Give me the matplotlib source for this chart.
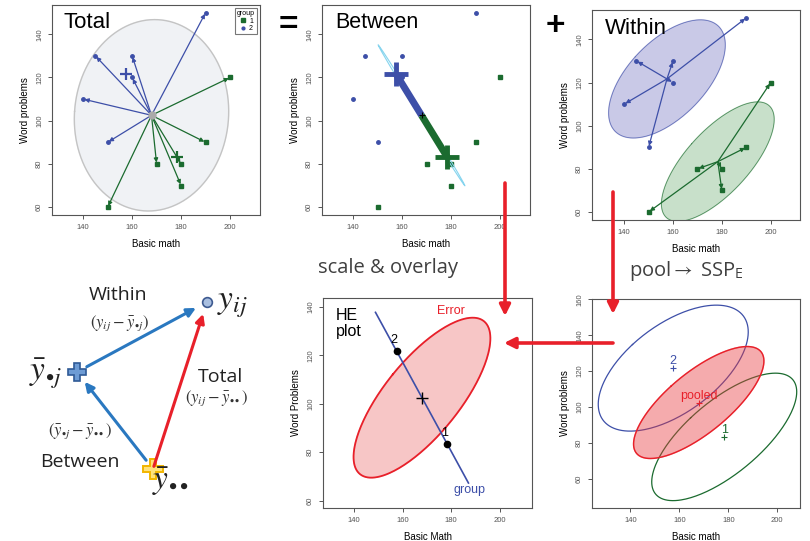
import numpy as np
import matplotlib.pyplot as plt
from matplotlib.lines import Line2D

plt.rcParams.update({
    "font.family": ["Liberation Sans", "DejaVu Sans"],
    "mathtext.fontset": "stix",
})

W, H = 810, 541

# ── data ───────────────────────────────────────────────────────────────────────
math_g1 = np.array([150, 170, 180, 180, 190, 200])   # group 1 (green)
word_g1 = np.array([60, 80, 80, 70, 90, 120])
math_g2 = np.array([140, 145, 150, 160, 160, 190])   # group 2 (blue)
word_g2 = np.array([110, 130, 90, 120, 130, 150])

x_ticks = [140, 160, 180, 200]
y_ticks = [60, 80, 100, 120, 140]
y_ticks_pool = [60, 80, 100, 120, 140, 160]

# schematic nodes (pixel positions of the little diagram)
node_yij = (207, 302)
node_ybar_j = (77, 372)
node_ybar = (153, 469)

GREEN = "#1b6b2f"
BLUE = "#3d4fa8"
RED = "#e8202a"
ARROW_BLUE = "#2a78c0"
TXT = "#404040"

g1 = np.column_stack([math_g1, word_g1]).astype(float)
g2 = np.column_stack([math_g2, word_g2]).astype(float)
allp = np.vstack([g1, g2])
m1, m2, grand = g1.mean(0), g2.mean(0), allp.mean(0)
cov_tot = np.cov(allp.T)
cov1, cov2 = np.cov(g1.T), np.cov(g2.T)
cov_pool = ((len(g1) - 1) * cov1 + (len(g2) - 1) * cov2) / (len(allp) - 2)


def ell(center, cov, r, shrink=1.0, n=240):
    # shrink < 1 fattens the ellipse a little (damps the correlation)
    cov = np.array(cov, dtype=float)
    cov[0, 1] *= shrink
    cov[1, 0] *= shrink
    vals, vecs = np.linalg.eigh(cov)
    t = np.linspace(0, 2 * np.pi, n)
    circ = np.vstack([np.cos(t), np.sin(t)]) * np.sqrt(vals)[:, None]
    pts = vecs @ circ * r + np.asarray(center)[:, None]
    return pts[0], pts[1]


def rect(l, t, r, b):
    return [l / W, 1 - b / H, (r - l) / W, (b - t) / H]


def rstyle(ax, xlim, ylim, yt, xlab="Basic math", ylab="Word problems"):
    ax.set_xlim(*xlim)
    ax.set_ylim(*ylim)
    ax.set_xticks(x_ticks)
    ax.set_yticks(yt)
    ax.set_yticklabels([str(v) for v in yt], rotation=90, va="center")
    ax.tick_params(labelsize=5.5, colors="#555555", length=3, width=0.7)
    for s in ax.spines.values():
        s.set_color("#555555")
        s.set_linewidth(0.8)
    ax.set_xlabel(xlab, fontsize=7, labelpad=6)
    ax.set_ylabel(ylab, fontsize=7, labelpad=4)


def arrow(ax, start, end, color, lw=0.9, ms=6):
    ax.annotate("", xy=end, xytext=start,
                arrowprops=dict(arrowstyle="-|>", color=color, lw=lw,
                                mutation_scale=ms, shrinkA=0, shrinkB=1))


fig = plt.figure(figsize=(W / 100, H / 100), dpi=100)

# ── Total ──────────────────────────────────────────────────────────────────────
ax1 = fig.add_axes(rect(52, 5, 260, 215))
ex, ey = ell(grand, cov_tot, 1.58, shrink=0.6)
ax1.fill(ex, ey, color="#f0f2f5", zorder=1)
ax1.plot(ex, ey, color="#c4c4c4", lw=1, zorder=1)
for p in g1:
    arrow(ax1, grand, p, GREEN)
for p in g2:
    arrow(ax1, grand, p, BLUE)
ax1.plot(math_g1, word_g1, "s", color=GREEN, ms=3.5, zorder=4)
ax1.plot(math_g2, word_g2, "o", color=BLUE, ms=2.5, zorder=4)
ax1.plot(*grand, "o", color="#aaaaaa", ms=5, zorder=4)
ax1.plot(*m1, "+", color=GREEN, ms=9, mew=1.6, zorder=5)
ax1.plot(*m2, "+", color=BLUE, ms=9, mew=1.6, zorder=5)
leg = ax1.legend(handles=[Line2D([], [], ls="", marker="s", color=GREEN, ms=2.5, label="1"),
                          Line2D([], [], ls="", marker="o", color=BLUE, ms=2, label="2")],
                 title="group", loc="upper right", fontsize=5, title_fontsize=5,
                 fancybox=False, edgecolor="#555555", handlelength=1, handletextpad=0.4,
                 borderpad=0.3, labelspacing=0.1, borderaxespad=0.4)
leg.get_frame().set_linewidth(0.8)
rstyle(ax1, (127.3, 212.2), (56.4, 153.5), y_ticks)

# ── Between ────────────────────────────────────────────────────────────────────
ax2 = fig.add_axes(rect(322, 5, 530, 215))
ax2.plot(math_g1, word_g1, "s", color=GREEN, ms=3.5, zorder=2)
ax2.plot(math_g2, word_g2, "o", color=BLUE, ms=2.5, zorder=2)
d = m1 - grand
hx, hy = ell(grand, np.outer(d, d) + 0.12 * np.eye(2), 1.7)
ax2.plot(hx, hy, color="#86d4ee", lw=0.8, zorder=3)
ax2.plot([grand[0], m2[0]], [grand[1], m2[1]], color=BLUE, lw=5, solid_capstyle="butt", zorder=4)
ax2.plot([grand[0], m1[0]], [grand[1], m1[1]], color=GREEN, lw=5, solid_capstyle="butt", zorder=4)
ax2.plot(*m2, "+", color=BLUE, ms=17, mew=3.5, zorder=5)
ax2.plot(*m1, "+", color=GREEN, ms=17, mew=3.5, zorder=5)
ax2.plot(*grand, "+", color="black", ms=5, mew=0.8, zorder=5)
rstyle(ax2, (127.3, 212.2), (56.4, 153.5), y_ticks)

# ── Within ─────────────────────────────────────────────────────────────────────
ax3 = fig.add_axes(rect(592, 10, 800, 220))
for g, m, c, fc in [(g2, m2, BLUE, "#c9c9e7"), (g1, m1, GREEN, "#c8e0ca")]:
    x, y = ell(m, np.cov(g.T), 1.34, shrink=0.82)
    ax3.fill(x, y, color=fc, zorder=1)
    ax3.plot(x, y, color=c, lw=0.6, alpha=0.7, zorder=1)
    for p in g:
        arrow(ax3, m, p, c)
ax3.plot(math_g1, word_g1, "s", color=GREEN, ms=3.5, zorder=4)
ax3.plot(math_g2, word_g2, "o", color=BLUE, ms=2.5, zorder=4)
rstyle(ax3, (126.8, 212.0), (56.3, 153.6), y_ticks)

# ── HE plot ────────────────────────────────────────────────────────────────────
ax4 = fig.add_axes(rect(323, 298, 532, 508))
x, y = ell(grand, cov_pool, 1.61, shrink=0.95)
ax4.fill(x, y, color="#f7c6c6", zorder=1)
ax4.plot(x, y, color=RED, lw=1.3, zorder=2)
ends = np.array([grand - 1.84 * d, grand + 1.84 * d])
ax4.plot(ends[:, 0], ends[:, 1], color=BLUE, lw=1.2, zorder=3)
ax4.plot([m1[0], m2[0]], [m1[1], m2[1]], "o", color="black", ms=4.5, zorder=4)
ax4.text(m1[0] - 1, m1[1] + 2, "1", fontsize=9, ha="center", va="bottom")
ax4.text(m2[0] - 1, m2[1] + 2, "2", fontsize=9, ha="center", va="bottom")
ax4.plot(*grand, "+", color="black", ms=8, mew=1.0, zorder=4)
ax4.text(180, 136, "Error", color=RED, fontsize=9, ha="center", va="bottom")
ax4.text(187.5, 67, "group", color=BLUE, fontsize=9, ha="center", va="top")
ax4.text(132.5, 139.5, "HE\nplot", fontsize=11.5, ha="left", va="top", linespacing=1.1)
rstyle(ax4, (127.1, 213.3), (56.9, 143.7), y_ticks, "Basic Math", "Word Problems")

# ── pooled ─────────────────────────────────────────────────────────────────────
ax5 = fig.add_axes(rect(592, 299, 800, 508))
x, y = ell(m2, cov2, 1.72, shrink=0.82)
ax5.plot(x, y, color=BLUE, lw=0.9, zorder=1)
x, y = ell(m1, cov1, 1.72, shrink=0.82)
ax5.plot(x, y, color=GREEN, lw=0.9, zorder=1)
x, y = ell(grand, cov_pool, 1.52, shrink=0.95)
ax5.fill(x, y, color="#e8383c", alpha=0.42, zorder=2)
ax5.plot(x, y, color=RED, lw=1.0, zorder=3)
for m, lab, c in [(m2, "2", BLUE), (m1, "1", GREEN), (grand, "pooled", RED)]:
    ax5.plot(*m, "+", color=c, ms=5, mew=0.8, zorder=4)
    ax5.annotate(lab, m, xytext=(0, 5), textcoords="offset points",
                 color=c, fontsize=9, ha="center", va="center", zorder=4)
rstyle(ax5, (124.3, 209.3), (43.7, 160.2), y_ticks_pool)

# ── overlay: titles, red arrows, schematic ─────────────────────────────────────
ov = fig.add_axes([0, 0, 1, 1], zorder=10)
ov.set_xlim(0, W)
ov.set_ylim(H, 0)
ov.set_axis_off()

ov.text(63, 22, "Total", fontsize=16, va="center")
ov.text(288, 26, "=", fontsize=24, fontweight="bold", ha="center", va="center")
ov.text(335, 22, "Between", fontsize=15.5, va="center")
ov.text(555, 26, "+", fontsize=24, fontweight="bold", ha="center", va="center")
ov.text(605, 28, "Within", fontsize=16, va="center")

side = dict(family=["Open Sans", "DejaVu Sans"], color=TXT)
ov.text(388, 268, "scale & overlay", fontsize=14.5, ha="center", va="center", **side)
ov.text(629, 271, "pool$\\rightarrow$ SSP$_\\mathregular{E}$", fontsize=14.5,
        ha="left", va="center", **side)

red_arrow = dict(arrowstyle="-|>", color=RED, lw=2.6, mutation_scale=16, shrinkA=0, shrinkB=0)
ov.annotate("", xy=(505, 316), xytext=(505, 183), arrowprops=red_arrow)
ov.annotate("", xy=(613, 314), xytext=(613, 192), arrowprops=red_arrow)
ov.annotate("", xy=(504, 343), xytext=(613, 343), arrowprops=red_arrow)

# schematic
blue_arrow = dict(arrowstyle="-|>", color=ARROW_BLUE, lw=2.2, mutation_scale=13, shrinkA=8, shrinkB=9)
ov.annotate("", xy=node_ybar_j, xytext=node_ybar, arrowprops=blue_arrow)
ov.annotate("", xy=node_yij, xytext=node_ybar_j, arrowprops=blue_arrow)
ov.annotate("", xy=node_yij, xytext=node_ybar,
            arrowprops=dict(blue_arrow, color=RED, shrinkA=2))
ov.plot(*node_yij, "o", ms=7, mfc="#a9bfe0", mec="#3d5a90", mew=1.2)
ov.plot(*node_ybar_j, "P", ms=13, mfc="#6d9bd4", mec="#2f5a96", mew=1.2)
ov.plot(*node_ybar, "P", ms=15, mfc="#ffe27a", mec="#f2b600", mew=1.4)

lab = dict(family=["Open Sans", "DejaVu Sans"], color="#222222", fontsize=14)
ov.text(118, 295, "Within", ha="center", va="center", **lab)
ov.text(80, 462, "Between", ha="center", va="center", **lab)
ov.text(220, 377, "Total", ha="center", va="center", **lab)

mt = dict(color="#333333", ha="center", va="center")
ov.text(119, 323, r"$(y_{ij} - \bar{y}_{\bullet j})$", fontsize=12, **mt)
ov.text(217, 398, r"$(y_{ij} - \bar{y}_{\bullet\bullet})$", fontsize=12, **mt)
ov.text(80, 431, r"$(\bar{y}_{\bullet j} - \bar{y}_{\bullet\bullet})$", fontsize=12, **mt)
ov.text(232, 305, r"$y_{ij}$", fontsize=24, color="#222222", ha="center", va="center")
ov.text(45, 374, r"$\bar{y}_{\bullet j}$", fontsize=24, color="#222222", ha="center", va="center")
ov.text(170, 482, r"$\bar{y}_{\bullet\bullet}$", fontsize=24, color="#222222", ha="center", va="center")

fig.savefig("out.png", dpi=100)
